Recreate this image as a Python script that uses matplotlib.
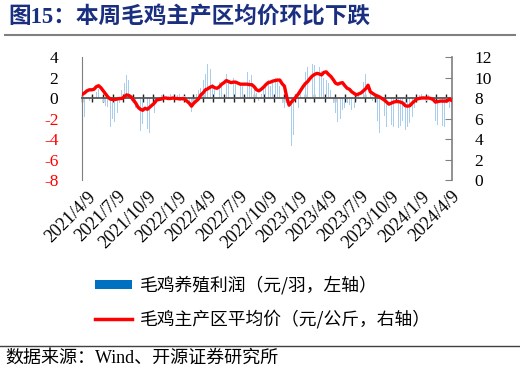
import pandas as pd
import matplotlib
matplotlib.use('Agg')
import matplotlib.pyplot as plt
import matplotlib.transforms as mtransforms
from matplotlib.patches import Patch
from matplotlib.lines import Line2D

plt.rcParams['font.family'] = ['Liberation Serif', 'Noto Sans CJK SC']

# weekly data, 2021/4/9 - 2024/4/26
dates = pd.date_range('2021-04-09', periods=160, freq='7D')

# 毛鸡养殖利润（元/羽）
profit = [
    -0.3, -1.9, -0.6, -0.3, 0.2, 0.3, 0.6, 0.9, 0.5, -0.4,
    -0.8, -0.9, -2.8, -2.0, -2.3, -1.5, -0.5, 0.8, 1.5, 2.2,
    1.8, -0.3, -0.5, -1.0, -4.0, -3.2, -2.5, -4.3, -3.0, -3.4,
    -2.5, -1.5, -0.5, 0.2, 0.3, 0.1, -0.2, 0.2, 0.4, 0.1,
    -0.2, 0.3, 0.4, -0.3, 0.2, -0.4, -0.8, -1.4, -0.5, 0.4,
    0.8, 1.0, 1.8, 2.3, 3.3, 2.8, 1.4, 1.0, 1.5, 1.6,
    1.2, 2.0, 2.3, 1.8, 2.2, 2.0, 1.6, 1.5, 1.5, 1.2,
    2.7, 2.5, 1.8, 2.2, 1.0, 0.5, -0.3, 0.4, 1.0, 1.5,
    1.8, 1.2, 1.5, 2.0, 1.6, 1.2, -0.5, -1.0, -0.5, -5.9,
    -4.7, -3.6, -2.2, -1.0, 0.5, 1.2, 2.5, 3.0, 2.8, 3.3,
    3.2, 2.7, 3.0, 2.6, 2.0, 1.8, 1.5, 0.8, -0.5, -1.5,
    -2.3, -2.0, -1.2, -1.0, -0.5, -0.7, -1.2, -1.0, -0.3, 0.3,
    0.8, 1.6, 2.3, 2.0, 1.0, -0.3, -0.8, -2.2, -3.4, -2.5,
    -1.8, -2.8, -3.6, -2.6, -2.8, -2.5, -2.9, -2.7, -2.2, -3.1,
    -2.8, -2.4, -1.9, -1.0, -0.3, 0.3, 0.4, 0.2, -0.3, 0.3,
    -0.2, -1.5, -2.2, -2.6, -2.8, -2.7, -2.8, -2.0, -1.0, -0.5,
]

# 毛鸡主产区平均价（元/公斤）
price = [
    8.36, 8.5, 8.7, 8.8, 8.8, 8.85, 9.1, 9.2, 9.0, 8.7,
    8.4, 8.1, 7.9, 7.85, 7.85, 7.9, 7.95, 7.95, 8.1, 8.3,
    8.25, 8.1, 7.8, 7.5, 7.1, 6.9, 6.8, 7.0, 6.9, 7.1,
    7.3, 7.5, 7.8, 7.85, 7.9, 8.0, 8.0, 7.95, 7.95, 8.0,
    7.95, 7.95, 7.9, 7.95, 7.9, 7.7, 7.5, 7.2, 7.5, 7.7,
    7.9, 8.3, 8.5, 8.8, 8.9, 9.05, 9.15, 9.0, 8.95, 9.1,
    9.35, 9.5, 9.7, 9.6, 9.5, 9.55, 9.55, 9.45, 9.35, 9.35,
    9.35, 9.35, 9.3, 9.3, 9.1, 8.8, 8.7, 8.85, 9.05, 9.3,
    9.5, 9.55, 9.65, 9.7, 9.75, 9.75, 9.4, 9.15, 8.1, 7.3,
    7.6, 7.85, 8.1, 8.4, 8.75, 9.1, 9.4, 9.6, 9.9, 10.15,
    10.3, 10.4, 10.35, 10.25, 10.5, 10.55, 10.3, 10.1, 9.8, 9.45,
    9.35, 9.45, 9.5, 9.2, 8.95, 8.85, 8.6, 8.45, 8.3, 8.4,
    8.5, 8.7, 8.9, 9.25, 8.6, 8.45, 8.3, 8.2, 8.1, 7.95,
    7.8, 7.6, 7.4, 7.5, 7.6, 7.65, 7.65, 7.6, 7.5, 7.25,
    7.2, 7.25, 7.5, 7.7, 7.9, 7.95, 8.0, 8.0, 8.0, 8.0,
    7.95, 7.85, 7.6, 7.65, 7.7, 7.7, 7.7, 7.7, 7.9, 7.75,
]

month_ticks = [pd.Timestamp('2021-04-09') + pd.DateOffset(months=k) for k in range(37)]
label_dates = month_ticks[::3]
left_ticks = [4, 2, 0, -2, -4, -6, -8]
right_ticks = [0, 2, 4, 6, 8, 10, 12]

fig = plt.figure(figsize=(5.2, 3.72), dpi=100)
ax = fig.add_axes([82 / 520, 1 - 180 / 372, (452 - 82) / 520, 123 / 372])
ax2 = ax.twinx()

ax.bar(dates, profit, width=2.5, color='#a9cdec', zorder=2)
ax2.plot(dates, price, color='#ff0000', lw=2.4, solid_capstyle='round', zorder=3)

ax.set_xlim(pd.Timestamp('2021-04-08'), pd.Timestamp('2024-04-27'))
ax.set_ylim(-8, 4)
ax2.set_ylim(0, 12)

# left axis
ax.set_yticks(left_ticks)
ax.set_yticklabels([str(v) for v in left_ticks], fontsize=12.5)
for lbl, v in zip(ax.get_yticklabels(), left_ticks):
    lbl.set_color('#ff0000' if v < 0 else 'black')
ax.tick_params(axis='y', length=0, pad=17)

# right axis
ax2.set_yticks(right_ticks)
ax2.set_yticklabels([str(v) for v in right_ticks], fontsize=12.5)
ax2.tick_params(axis='y', direction='in', length=5, color='#808080', pad=16)

for s in ['top', 'right']:
    ax.spines[s].set_visible(False)
for s in ['top', 'left', 'bottom']:
    ax2.spines[s].set_visible(False)
ax.spines['left'].set_color('#7f7f7f')
ax2.spines['right'].set_color('#7f7f7f')
ax2.spines['right'].set_linewidth(1.2)

# zero line with month ticks
ax.spines['bottom'].set_position(('data', 0))
ax.spines['bottom'].set_color('#595959')
ax.spines['bottom'].set_linewidth(1.3)
ax.set_xticks(month_ticks)
ax.set_xticklabels([])
ax.tick_params(axis='x', direction='inout', length=6, color='#222222', width=1)

# date labels below plot
sec = ax.secondary_xaxis('bottom')
sec.set_xticks(label_dates)
sec.set_xticklabels([f'{d.year}/{d.month}/{d.day}' for d in label_dates],
                    rotation=45, ha='right', rotation_mode='anchor', fontsize=13)
sec.tick_params(axis='x', length=0, pad=8)
sec.spines['bottom'].set_visible(False)
shift = mtransforms.ScaledTranslation(0.05, 0.03, fig.dpi_scale_trans)
for lbl in sec.get_xticklabels():
    lbl.set_transform(lbl.get_transform() + shift)

# title and rules
fig.text(8 / 520, 1 - 17 / 372, '图15：本周毛鸡主产区均价环比下跌', fontsize=16.3,
         fontweight='bold', color='#1b2f80', va='center', ha='left',
         family=['Liberation Serif', 'Noto Sans CJK SC'])
fig.add_artist(Line2D([5 / 520, 515 / 520], [1 - 35 / 372] * 2, color='#808080', lw=1.5))
fig.add_artist(Line2D([0, 1], [1 - 346 / 372] * 2, color='#404040', lw=1))
fig.text(5 / 520, 1 - 358 / 372, '数据来源：Wind、开源证券研究所', fontsize=13,
         va='center', ha='left', family=['Liberation Serif', 'Noto Sans CJK SC'])

handles = [Patch(facecolor='#0070c0', edgecolor='none'),
           Line2D([], [], color='#ff0000', lw=2.5)]
labels = ['毛鸡养殖利润（元/羽，左轴）', '毛鸡主产区平均价（元/公斤，右轴）']
fig.legend(handles, labels, loc='upper left', bbox_to_anchor=(95 / 520, 1 - 276 / 372),
           frameon=False, prop={'family': ['Noto Sans CJK SC'], 'size': 12.8},
           handlelength=2.1, handleheight=0.4, handletextpad=0.4,
           labelspacing=0.85, borderpad=0, borderaxespad=0)

fig.savefig('out.png', dpi=100)
